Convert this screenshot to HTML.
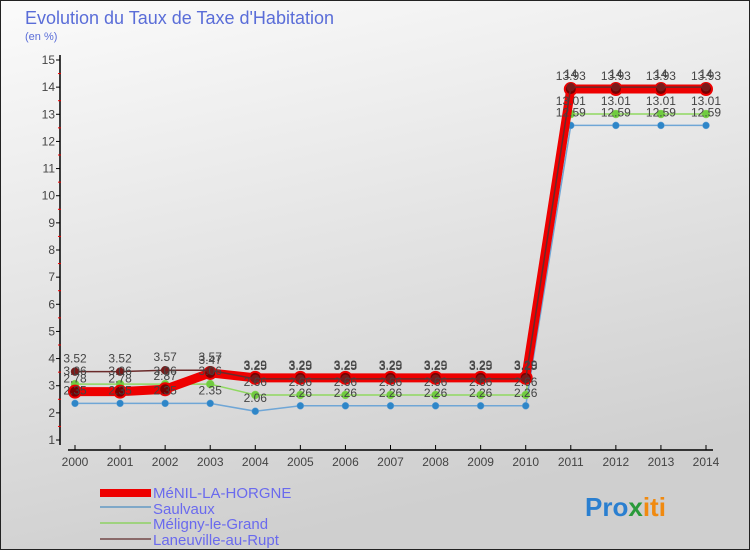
<!DOCTYPE html>
<html><head><meta charset="utf-8"><style>
body{margin:0}
svg{display:block;font-family:"Liberation Sans",sans-serif}
</style></head><body>
<svg id="c" width="750" height="550" viewBox="0 0 750 550">
<defs><linearGradient id="bg" x1="0" y1="0" x2="0.3" y2="1"><stop offset="0" stop-color="#fbfbfb"/><stop offset="1" stop-color="#cfcfcf"/></linearGradient></defs>
<rect x="0.5" y="0.5" width="749" height="549" fill="url(#bg)" stroke="#222"/>
<text x="25" y="24" font-size="18" fill="#5a6dd8">Evolution du Taux de Taxe d'Habitation</text>
<text x="25" y="40" font-size="11" fill="#5a6dd8">(en %)</text>
<g id="axes"></g><g id="series"></g><g id="labels"></g>
<g>
<rect x="100" y="489" width="51" height="8" fill="#e00"/>
<text x="153" y="498" font-size="15" fill="#6a6aee">MéNIL-LA-HORGNE</text>
<line x1="100" y1="507" x2="151" y2="507" stroke="#7fa8c8" stroke-width="2"/>
<text x="153" y="514" font-size="15" fill="#6a6aee">Saulvaux</text>
<line x1="100" y1="523" x2="151" y2="523" stroke="#9fd27f" stroke-width="2"/>
<text x="153" y="529" font-size="15" fill="#6a6aee">Méligny-le-Grand</text>
<line x1="100" y1="539" x2="151" y2="539" stroke="#8a6a6a" stroke-width="2"/>
<text x="153" y="545" font-size="15" fill="#6a6aee">Laneuville-au-Rupt</text>
</g>
<text x="585" y="516" font-size="26" font-weight="bold"><tspan fill="#2a7fd0">Pro</tspan><tspan fill="#2a9a3a">x</tspan><tspan fill="#f08a10">iti</tspan></text>
</svg>
<script>
const years=[2000,2001,2002,2003,2004,2005,2006,2007,2008,2009,2010,2011,2012,2013,2014];
const yTicks=[1,2,3,4,5,6,7,8,9,10,11,12,13,14,15];
const menil=[2.78,2.78,2.87,3.47,3.29,3.29,3.29,3.29,3.29,3.29,3.29,13.93,13.93,13.93,13.93];
const saulvaux=[2.35,2.35,2.35,2.35,2.06,2.26,2.26,2.26,2.26,2.26,2.26,12.59,12.59,12.59,12.59];
const meligny=[3.06,3.06,3.06,3.06,2.66,2.66,2.66,2.66,2.66,2.66,2.66,13.01,13.01,13.01,13.01];
const laneuville=[3.52,3.52,3.57,3.57,3.25,3.25,3.25,3.25,3.25,3.25,3.25,14,14,14,14];
const NS="http://www.w3.org/2000/svg";
const X=i=>75+i*(706-75)/(years.length-1);
const Y=v=>440-(v-1)*(380/14);
function mk(t,a,p){const e=document.createElementNS(NS,t);for(const k in a)e.setAttribute(k,a[k]);p.appendChild(e);return e;}
const ax=document.getElementById('axes');
let l=mk('line',{x1:60,y1:55,x2:60,y2:445,stroke:'#000','stroke-width':1.5},ax);


l=mk('line',{x1:68,y1:450,x2:713,y2:450,stroke:'#000','stroke-width':1.5},ax);


yTicks.forEach(v=>{
 mk('line',{x1:56,y1:Y(v),x2:60,y2:Y(v),stroke:'#000'},ax);
 if(v<15)mk('line',{x1:58,y1:Y(v+0.5),x2:61,y2:Y(v+0.5),stroke:'#e00'},ax);
 const t=mk('text',{x:55,y:Y(v)+4,'font-size':12,fill:'#444','text-anchor':'end'},ax);t.textContent=v;
 
 
});
years.forEach((y,i)=>{
 mk('line',{x1:X(i),y1:445,x2:X(i),y2:450,stroke:'#000'},ax);
 const t=mk('text',{x:X(i),y:466,'font-size':12,fill:'#444','text-anchor':'middle'},ax);t.textContent=y;
 
 
});
const sg=document.getElementById('series'),lg=document.getElementById('labels');
function series(d,name,col,w,r,dot,dy){
 const g=mk('g',{},sg);
 
 
 mk('polyline',{points:d.map((v,i)=>X(i)+','+Y(v)).join(' '),fill:'none',stroke:col,'stroke-width':w},g);
 d.forEach((v,i)=>{
  const c=mk('circle',{cx:X(i),cy:Y(v),r:r,fill:dot,stroke:col,'stroke-width':w>5?2:0.5},g);
  
  
  const t=mk('text',{x:X(i),y:Y(v)+dy,'font-size':12,fill:'#444','text-anchor':'middle'},lg);t.textContent=v;
  
  
 });
}
series(saulvaux,'series-saulvaux','#6fa6d6',1.5,3.5,'#2e86c8',-9);
series(meligny,'series-meligny','#8fd860',1.5,4,'#70cc40',-9);
series(menil,'series-menil','#ee0000',9,6,'#700',-9);
series(laneuville,'series-laneuville','#6a2a2a',1.5,4,'#7a1a1a',-9);
</script>
</body></html>
